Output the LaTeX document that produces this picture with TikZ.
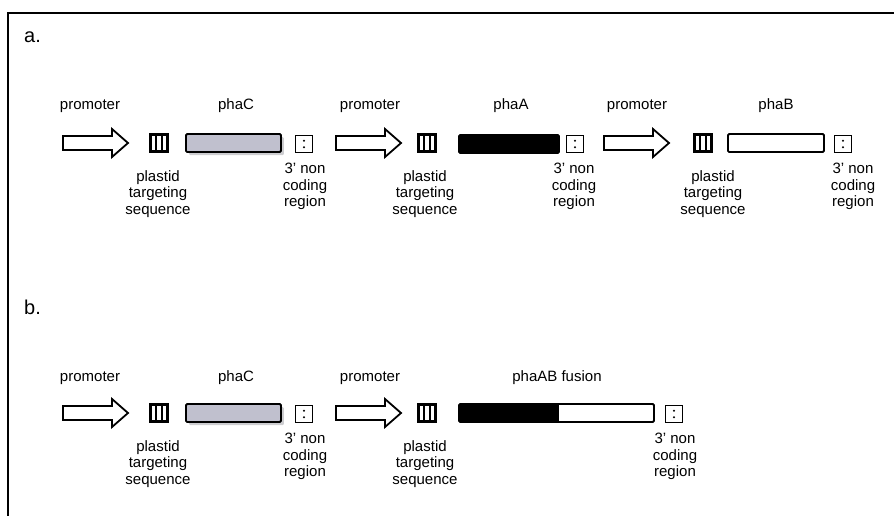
\documentclass[tikz,border=0pt]{standalone}
\usepackage{fontspec}
\setmainfont{Liberation Sans}
\usetikzlibrary{shadows}
\definecolor{cgrey}{RGB}{192,192,206}
\definecolor{cshadow}{RGB}{205,205,208}
\newcommand\apos{\char"0027\relax}
\newcommand\promarrow[3]{%
  \draw[line width=1.8pt, fill=white, line join=miter] ({#1},{#2-7}) -- ({#1+49},{#2-7}) -- ({#1+49},{#2-14}) -- ({#1+65},{#2}) -- ({#1+49},{#2+14}) -- ({#1+49},{#2+7}) -- ({#1},{#2+7}) -- cycle;
  \coordinate (#3) at ({#1+32},{#2});}
\begin{document}
\begin{tikzpicture}[x=1pt,y=-1pt,
  lbl/.style={font=\fontsize{15}{16.5}\selectfont, align=center, inner sep=0},
  gene/.style={draw, line width=1.9pt, rounded corners=1.2pt, minimum height=18pt, inner sep=0, anchor=west},
  plastid/.style={draw, line width=2.3pt, minimum width=17pt, minimum height=17pt, inner sep=0,
    path picture={
      \draw[line width=2.1pt] ([xshift=-2.7pt]path picture bounding box.north) -- ([xshift=-2.7pt]path picture bounding box.south);
      \draw[line width=2.1pt] ([xshift=2.7pt]path picture bounding box.north) -- ([xshift=2.7pt]path picture bounding box.south);}},
  term/.style={draw, line width=1.9pt, minimum width=17pt, minimum height=17pt, inner sep=0,
    path picture={
      \fill ([yshift=3.3pt]path picture bounding box.center) circle (1.1pt);
      \fill ([yshift=-3.3pt]path picture bounding box.center) circle (1.1pt);}},
  grey/.style={gene, fill=cgrey, drop shadow={shadow xshift=3pt, shadow yshift=-3pt, fill=cshadow, opacity=1}},
]
\useasboundingbox (0,0) rectangle (894,515);
\draw[line width=1.6pt] (8,520) -- (8,13) -- (900,13);

\node[font=\fontsize{20}{22}\selectfont, anchor=west, inner sep=0] (la) at (24,37) {a.};
\node[font=\fontsize{20}{22}\selectfont, anchor=west, inner sep=0] (lb) at (24,307) {b.};

% ---- row a ----
\promarrow{63}{143}{a1}
\node[plastid] (ap1) at (159,143) {};
\node[grey, minimum width=95pt] (ac) at (185,143) {};
\node[term] (at1) at (304,144) {};
\promarrow{336}{143}{a2}
\node[plastid] (ap2) at (427,143) {};
\node[gene, fill=black, minimum width=100pt] (aa) at (458,144) {};
\node[term] (at2) at (575,144) {};
\promarrow{604}{143}{a3}
\node[plastid] (ap3) at (703,143) {};
\node[gene, fill=white, minimum width=96pt] (ab) at (727,143) {};
\node[term] (at3) at (843,144) {};

\node[lbl] (tpa1) at (90,106) {promoter};
\node[lbl] (tca) at (236,106) {phaC};
\node[lbl] (tpa2) at (370,106) {promoter};
\node[lbl] (taa) at (511,106) {phaA};
\node[lbl] (tpa3) at (637,106) {promoter};
\node[lbl] (tba) at (776,106) {phaB};

\node[lbl, anchor=north] (sa1) at (158,170) {plastid\\targeting\\sequence};
\node[lbl, anchor=north] (na1) at (305,163) {3\apos{} non\\coding\\region};
\node[lbl, anchor=north] (sa2) at (425,170) {plastid\\targeting\\sequence};
\node[lbl, anchor=north] (na2) at (574,163) {3\apos{} non\\coding\\region};
\node[lbl, anchor=north] (sa3) at (713,170) {plastid\\targeting\\sequence};
\node[lbl, anchor=north] (na3) at (853,163) {3\apos{} non\\coding\\region};

% ---- row b ----
\promarrow{63}{413}{b1}
\node[plastid] (bp1) at (159,413) {};
\node[grey, minimum width=95pt] (bc) at (185,413) {};
\node[term] (bt1) at (304,414) {};
\promarrow{336}{413}{b2}
\node[plastid] (bp2) at (427,413) {};
\node[gene, fill=white, minimum width=195pt,
  path picture={\fill[black] (path picture bounding box.north west) rectangle ([xshift=100pt]path picture bounding box.south west);}] (bf) at (458,413) {};
\node[term] (bt2) at (674,414) {};

\node[lbl] (tpb1) at (90,378) {promoter};
\node[lbl] (tcb) at (236,378) {phaC};
\node[lbl] (tpb2) at (370,378) {promoter};
\node[lbl] (tfb) at (557,378) {phaAB fusion};

\node[lbl, anchor=north] (sb1) at (158,440) {plastid\\targeting\\sequence};
\node[lbl, anchor=north] (nb1) at (305,433) {3\apos{} non\\coding\\region};
\node[lbl, anchor=north] (sb2) at (425,440) {plastid\\targeting\\sequence};
\node[lbl, anchor=north] (nb2) at (675,433) {3\apos{} non\\coding\\region};
\end{tikzpicture}
\end{document}
